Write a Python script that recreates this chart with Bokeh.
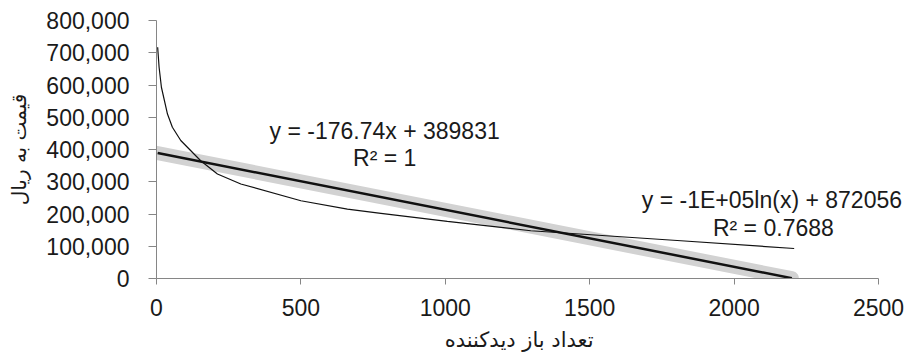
from bokeh.plotting import figure
from bokeh.models import Range1d, FixedTicker, NumeralTickFormatter, Label, Title
from bokeh.embed import file_html
from bokeh.resources import INLINE

# ---- data ----
series_x = [4, 2200]
series_y = [389000, 1000]

linear_trend_x = [4, 2200]
linear_trend_y = [389000, 1000]

log_trend_x = [4, 9, 17, 38, 55, 84, 153, 211, 292, 500, 661, 777, 1007, 1296, 1816, 2208]
log_trend_y = [717000, 655000, 593000, 510000, 469000, 428000, 365000, 324000, 293000,
               241000, 215000, 202000, 177000, 148000, 117000, 93000]

x_ticks = [0, 500, 1000, 1500, 2000, 2500]
y_ticks = [0, 100000, 200000, 300000, 400000, 500000, 600000, 700000, 800000]

linear_eq = ["y = -176.74x + 389831", "R\u00b2 = 1"]
log_eq = ["y = -1E+05ln(x) + 872056", "R\u00b2 = 0.7688"]

x_title = "تعداد باز دیدکننده"
y_title = "قیمت به ریال"

# ---- figure ----
W, H = 913, 358
LEFT, TOP, AX_RIGHT, AX_BOTTOM = 156, 20, 878, 278
x_end = x_ticks[-1] * (W - LEFT) / (AX_RIGHT - LEFT)

p = figure(width=W, height=H, output_backend="svg", toolbar_location=None,
           x_range=Range1d(0, x_end), y_range=Range1d(y_ticks[0], y_ticks[-1]),
           min_border_left=LEFT, min_border_right=0, min_border_top=TOP,
           min_border_bottom=H - AX_BOTTOM)
p.outline_line_color = None
p.grid.visible = False
p.background_fill_color = "white"
p.border_fill_color = "white"

FONT = "Liberation Sans"
AR_FONT = "DejaVu Sans"

for ax in (p.xaxis[0], p.yaxis[0]):
    ax.axis_line_color = "#868686"
    ax.major_tick_line_color = "#868686"
    ax.minor_tick_line_color = None
    ax.major_tick_in = 0
    ax.major_label_text_font = FONT
    ax.major_label_text_font_size = "23px"
    ax.major_label_text_color = "#1a1a1a"

p.xaxis.ticker = FixedTicker(ticks=x_ticks)
p.xaxis.bounds = (x_ticks[0], x_ticks[-1])
p.yaxis.ticker = FixedTicker(ticks=y_ticks)
p.yaxis.formatter = NumeralTickFormatter(format="0,0")
p.xaxis.major_tick_out = 6
p.yaxis.major_tick_out = 8
p.xaxis.major_label_standoff = 14
p.yaxis.major_label_standoff = 19

p.yaxis.axis_label = y_title
p.yaxis.axis_label_text_font = AR_FONT
p.yaxis.axis_label_text_font_size = "20px"
p.yaxis.axis_label_text_font_style = "normal"
p.yaxis.axis_label_text_color = "#1a1a1a"
p.yaxis.axis_label_standoff = 12

p.add_layout(Title(text=x_title, align="right", offset=320, text_font=AR_FONT,
                   text_font_size="21px", text_font_style="normal",
                   text_line_height=0.6, text_color="#1a1a1a", standoff=14), "below")

# data series (thick gray)
p.line(series_x, series_y, line_color="#d2d2d2", line_width=14, line_cap="round")
# linear trendline
p.line(linear_trend_x, linear_trend_y, line_color="#111111", line_width=2.5)
# log trendline
p.line(log_trend_x, log_trend_y, line_color="#111111", line_width=1.2)

# equation labels
def lab(x, y, t):
    p.add_layout(Label(x=x, y=y, text=t, text_font=FONT, text_font_size="23px",
                       text_color="#1a1a1a", text_align="center", text_baseline="middle"))

lab(790, 457000, linear_eq[0])
lab(790, 373000, linear_eq[1])
lab(2131, 244000, log_eq[0])
lab(2136, 156000, log_eq[1])

open("out.html", "w").write(file_html(p, INLINE))
